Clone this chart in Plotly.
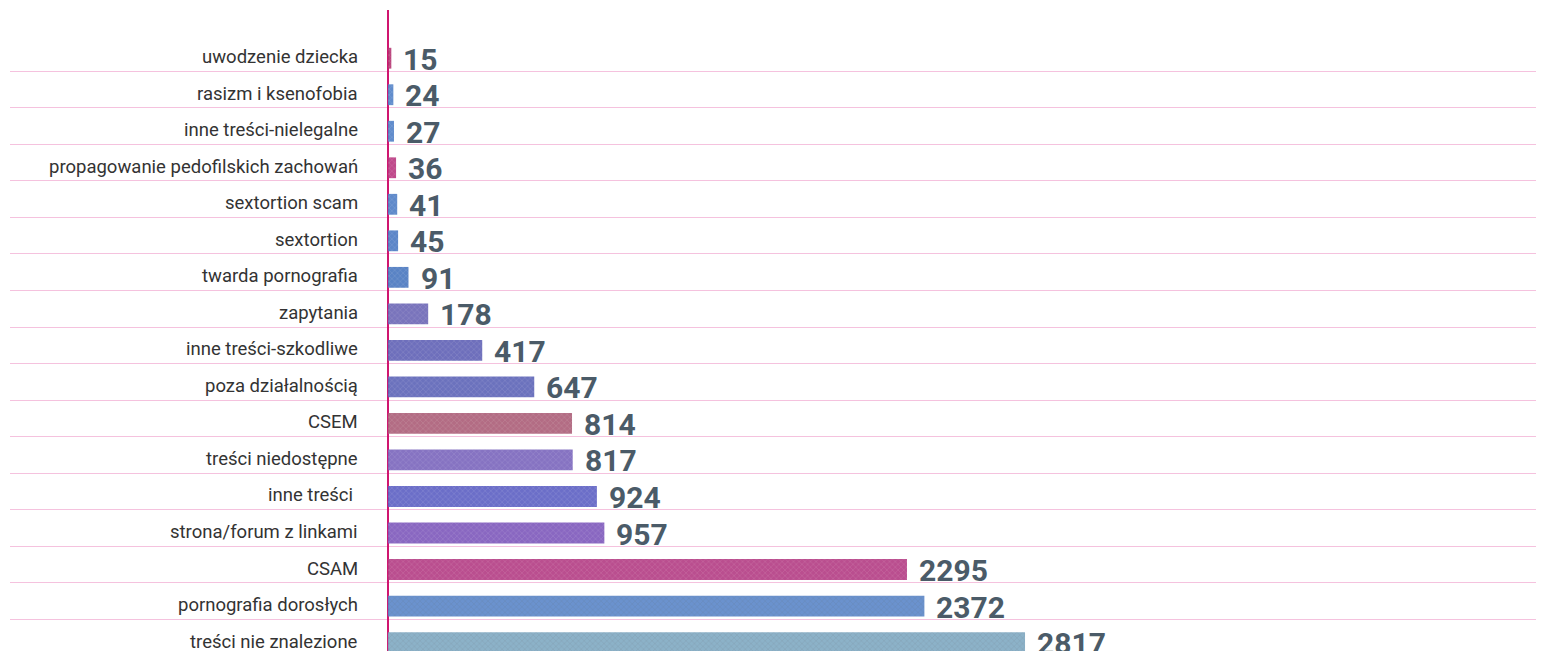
import plotly.graph_objects as go

# categories, top to bottom
categories = [
    'uwodzenie dziecka', 'rasizm i ksenofobia', 'inne treści-nielegalne',
    'propagowanie pedofilskich zachowań', 'sextortion scam', 'sextortion',
    'twarda pornografia', 'zapytania', 'inne treści-szkodliwe',
    'poza działalnością', 'CSEM', 'treści niedostępne', 'inne treści ',
    'strona/forum z linkami', 'CSAM', 'pornografia dorosłych',
    'treści nie znalezione',
]
values = [15, 24, 27, 36, 41, 45, 91, 178, 417, 647, 814, 817, 924, 957, 2295, 2372, 2817]
bar_colors = [
    '#b2306e', '#4f7fc6', '#4f7fc6', '#b8357e', '#4d7cc4', '#4a78c2',
    '#4775be', '#6a64b4', '#5e5fb4', '#5b62b6', '#aa5c76', '#7863bb',
    '#5b5ec2', '#7c56ba', '#b23a82', '#5a86c8', '#7fa9c2',
]

rows = list(range(len(categories)))

fig = go.Figure()
fig.add_trace(go.Bar(
    x           = values,
    y           = rows,
    orientation = 'h',
    width       = 0.57,
    marker      = dict(
        color   = bar_colors,
        opacity = 0.9,
        line    = dict(width=0),
        pattern = dict(shape='x', size=4, solidity=0.15,
                       fgcolor='#2a2050', fgopacity=0.3),
    ),
    hoverinfo   = 'x+text',
    text        = categories,
    textposition = 'none',
))

# category labels left of the zero line, values right of each bar
for i, cat in enumerate(categories):
    fig.add_annotation(
        x=0, y=i, xref='x', yref='y', text=cat, showarrow=False,
        xanchor='right', xshift=-28, yshift=1,
        font=dict(family='Roboto', size=18.5, color='#333333'),
    )
    fig.add_annotation(
        x=values[i], y=i, xref='x', yref='y', text=f'<b>{values[i]}</b>',
        showarrow=False, xanchor='left', xshift=10, yshift=-1,
        font=dict(family='Roboto', size=30, color='#4b5b68'),
    )

fig.update_layout(
    width         = 1544,
    height        = 651,
    margin        = dict(l=2, r=0, t=2, b=0),
    paper_bgcolor = 'white',
    plot_bgcolor  = 'white',
    showlegend    = False,
    xaxis = dict(
        range          = [-1671, 5147],
        showgrid       = False,
        showticklabels = False,
        zeroline       = True,
        zerolinecolor  = '#d0156f',
        zerolinewidth  = 1.5,
    ),
    yaxis = dict(
        range          = [16.45, -1.32],
        showgrid       = False,
        showticklabels = False,
        zeroline       = False,
        minor          = dict(
            tickmode  = 'array',
            tickvals  = [r + 0.36 for r in rows[:-1]],
            showgrid  = True,
            gridcolor = '#f5c2de',
            gridwidth = 1.3,
        ),
    ),
)

fig.write_html('out.html')
